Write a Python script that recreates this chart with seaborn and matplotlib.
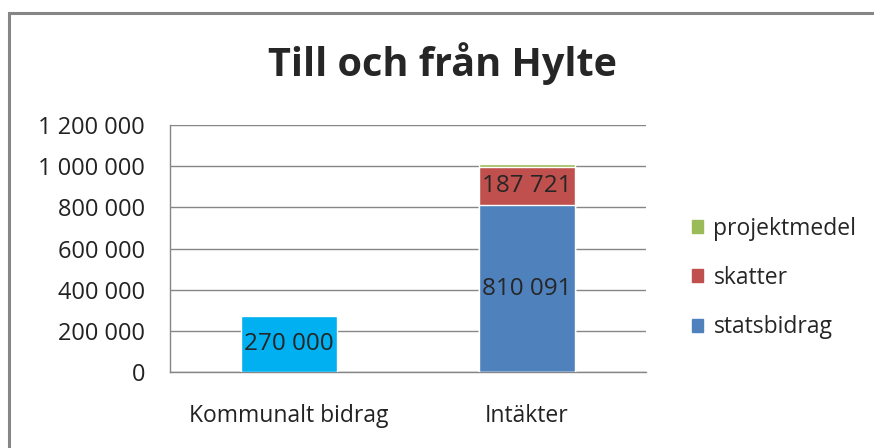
import pandas as pd
import seaborn as sns
import matplotlib.pyplot as plt
from matplotlib.patches import Patch, Rectangle

# Data
categories = ["Kommunalt bidrag", "Intäkter"]
kommunalt = [270000, 0]
statsbidrag = [0, 810091]
skatter = [0, 187721]
projektmedel = [0, 12000]
yticks = [0, 200000, 400000, 600000, 800000, 1000000, 1200000]

c_kom = "#00B0F0"
c_stat = "#4F81BD"
c_skatt = "#C0504D"
c_proj = "#9BBB59"

def fmt(v):
    return f"{int(v):,}".replace(",", " ")

# cumulative heights for stacking (draw tallest first)
cum_stat = [a for a in statsbidrag]
cum_skatt = [a + b for a, b in zip(cum_stat, skatter)]
cum_proj = [a + b for a, b in zip(cum_skatt, projektmedel)]

sns.set_style("white")
plt.rcParams["font.family"] = ["Open Sans", "DejaVu Sans"]
fs = 17

fig = plt.figure(figsize=(8.74, 4.48), dpi=100)
ax = fig.add_axes([170 / 874, 76 / 448, (646 - 170) / 874, (372 - 125) / 448])

df = pd.DataFrame({"cat": categories, "kom": kommunalt, "stat": cum_stat,
                   "skatt": cum_skatt, "proj": cum_proj})

sns.barplot(data=df, x="cat", y="proj", color=c_proj, width=0.4, saturation=1, ax=ax, zorder=3)
sns.barplot(data=df, x="cat", y="skatt", color=c_skatt, width=0.4, saturation=1, ax=ax, zorder=3)
sns.barplot(data=df, x="cat", y="stat", color=c_stat, width=0.4, saturation=1, ax=ax, zorder=3)
sns.barplot(data=df, x="cat", y="kom", color=c_kom, width=0.4, saturation=1, ax=ax, zorder=3)

# value labels in the middle of each segment
ax.text(0, kommunalt[0] / 2, fmt(kommunalt[0]), ha="center", va="center", fontsize=fs + 0.5, zorder=4)
ax.text(1, statsbidrag[1] / 2, fmt(statsbidrag[1]), ha="center", va="center", fontsize=fs + 0.5, zorder=4)
ax.text(1, cum_stat[1] + skatter[1] / 2, fmt(skatter[1]), ha="center", va="center", fontsize=fs + 0.5, zorder=4)

ax.set_ylim(0, 1200000)
ax.set_xlim(-0.5, 1.5)
ax.set_yticks(yticks)
ax.set_yticklabels([fmt(v) for v in yticks], fontsize=fs, color="#222222")
ax.set_xticks([0, 1])
ax.set_xticklabels(categories, fontsize=fs - 0.5, color="#222222")
ax.set_xticks([-0.5, 0.5, 1.5], minor=True)
ax.tick_params(axis="x", which="major", length=0, pad=23)
ax.tick_params(axis="x", which="minor", length=6, color="#868686", width=1)
ax.tick_params(axis="y", length=6, color="#868686", width=1, pad=12)
ax.set_xlabel("")
ax.set_ylabel("")
ax.yaxis.grid(True, color="#868686", linewidth=1, zorder=0)
ax.set_axisbelow(True)
for s in ["top", "right"]:
    ax.spines[s].set_visible(False)
for s in ["left", "bottom"]:
    ax.spines[s].set_color("#868686")
    ax.spines[s].set_linewidth(1)

fig.text(443 / 874, (448 - 64) / 448, "Till och från Hylte", ha="center", va="center",
         fontsize=28.5, fontweight="bold")

handles = [Patch(color=c_proj, label="projektmedel"),
           Patch(color=c_skatt, label="skatter"),
           Patch(color=c_stat, label="statsbidrag")]
fig.legend(handles=handles, loc="center left", bbox_to_anchor=(671 / 874, (448 - 278) / 448),
           frameon=False, fontsize=16.5, handlelength=0.5, handleheight=0.5,
           handletextpad=0.45, labelspacing=1.1)

# outer chart frame (only left and top visible in the crop)
fig.add_artist(Rectangle((9 / 874, -0.2), 1.2, 1.2 - 13 / 448, transform=fig.transFigure,
                         fill=False, edgecolor="#868686", linewidth=2.2))

fig.savefig("out.png", dpi=100)
